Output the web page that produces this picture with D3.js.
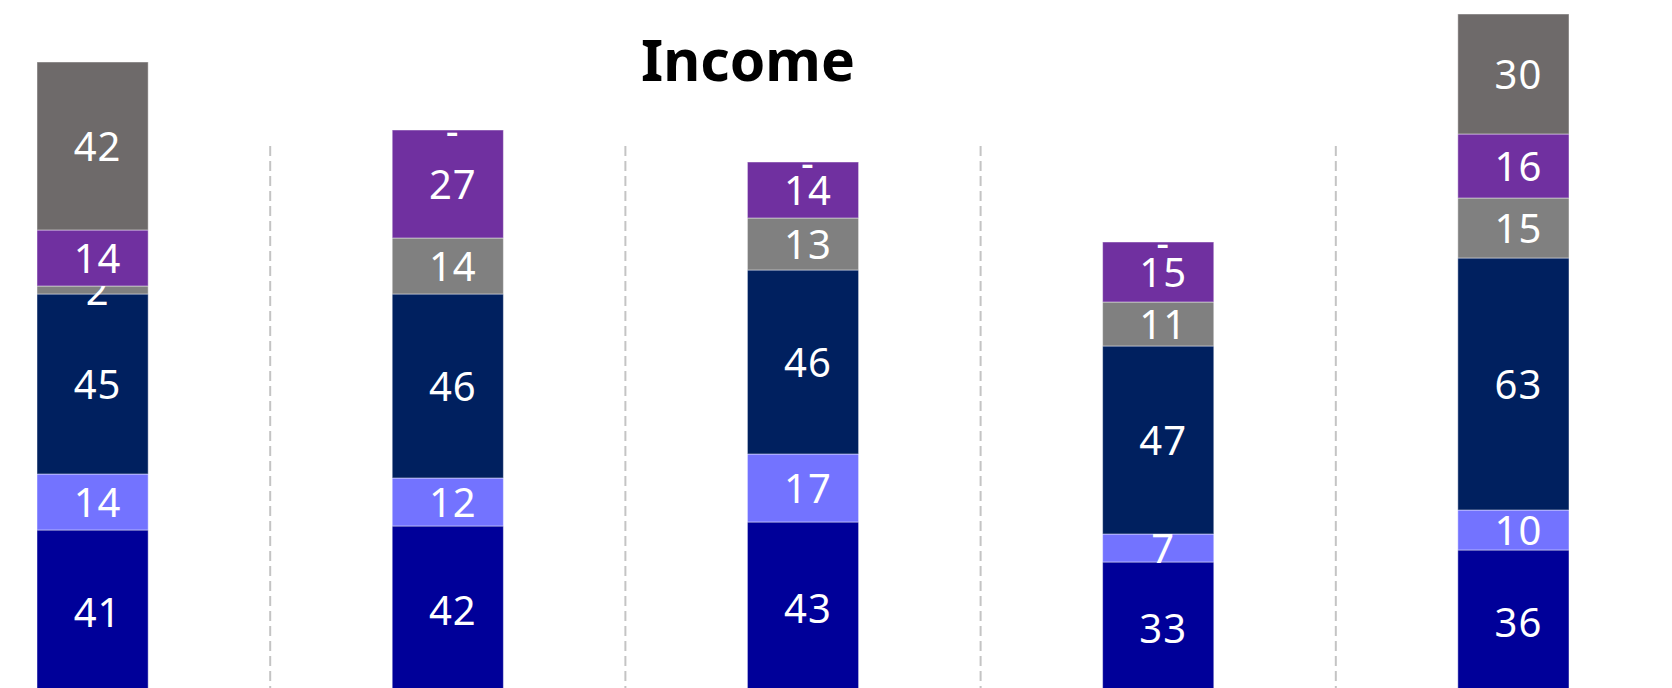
<!DOCTYPE html>
<html>
<head>
<meta charset="utf-8">
<script src="https://cdn.jsdelivr.net/npm/d3@7"></script>
<style>
  html, body { margin: 0; padding: 0; background: #ffffff; overflow: hidden; }
  svg { display: block; }
</style>
</head>
<body>
<div id="container"></div>
<script>
"use strict";

// Income groups, left to right (axis labels are cut off in the original).
const categories = ["g1", "g2", "g3", "g4", "g5"];

// Stacked series, bottom to top. A value of null means "no data" and shows a dash.
const seriesNames = ["s1", "s2", "s3", "s4", "s5", "s6"];
const s1 = [41, 42, 43, 33, 36];
const s2 = [14, 12, 17, 7, 10];
const s3 = [45, 46, 46, 47, 63];
const s4 = [2, 14, 13, 11, 15];
const s5 = [14, 27, 14, 15, 16];
const s6 = [42, null, null, null, 30];

const seriesColors = ["#000099", "#7373ff", "#00205f", "#808080", "#7030a0", "#6e6a6a"];

const title = "Income";

const width = 1672;
const height = 688;

const rows = categories.map((c, i) => ({
  key: c,
  s1: s1[i], s2: s2[i], s3: s3[i], s4: s4[i], s5: s5[i], s6: s6[i]
}));
const raw = { s1, s2, s3, s4, s5, s6 };

const x = d3.scaleBand()
  .domain(categories)
  .range([37, 1569])
  .paddingInner(0.687)
  .paddingOuter(0);

// The plot continues below the visible window; baseline sits just under the edge.
const y = d3.scaleLinear()
  .domain([0, 170])
  .range([694, 14]);

const stack = d3.stack()
  .keys(seriesNames)
  .value((d, k) => d[k] == null ? 0 : d[k]);
const layers = stack(rows);

const svg = d3.create("svg")
  .attr("width", width)
  .attr("height", height);

// Dashed separators between groups.
const seps = categories.slice(1).map((c, i) =>
  (x(categories[i]) + x.bandwidth() + x(c)) / 2);
svg.append("g")
  .selectAll("line")
  .data(seps)
  .join("line")
  .attr("x1", (d) => d)
  .attr("x2", (d) => d)
  .attr("y1", 146)
  .attr("y2", height)
  .attr("stroke", "#c4c4c4")
  .attr("stroke-width", 2)
  .attr("stroke-dasharray", "10,5");

// Bars.
const layerG = svg.append("g")
  .selectAll("g")
  .data(layers)
  .join("g")
  .attr("fill", (d, i) => seriesColors[i]);

layerG.selectAll("rect")
  .data((d) => d)
  .join("rect")
  .attr("x", (d) => x(d.data.key))
  .attr("y", (d) => y(d[1]))
  .attr("width", x.bandwidth())
  .attr("height", (d) => y(d[0]) - y(d[1]))
  .attr("stroke", "rgba(255,255,255,0.45)")
  .attr("stroke-width", 1);

// Value labels.
const valueOf = (d) => raw[d.key][categories.indexOf(d.p.data.key)];
layerG.selectAll("text")
  .data((d) => d.map((p) => ({ p, key: d.key })))
  .join("text")
  .attr("x", (d) => x(d.p.data.key) + x.bandwidth() / 2 + 5)
  .attr("y", (d) => (y(d.p[0]) + y(d.p[1])) / 2)
  .attr("dy", (d) => valueOf(d) == null ? 15 : 15)
  .attr("text-anchor", "middle")
  .attr("fill", "#ffffff")
  .style("font-family", "'Noto Sans', sans-serif")
  .style("font-size", "40px")
  .style("letter-spacing", "1px")
  .text((d) => valueOf(d) == null ? "-" : valueOf(d));

// Title.
svg.append("text")
  .attr("x", 748)
  .attr("y", 81)
  .attr("text-anchor", "middle")
  .attr("fill", "#000000")
  .style("font-family", "'Noto Sans', sans-serif")
  .style("font-weight", "bold")
  .style("font-size", "57px")
  .text(title);

document.getElementById("container").append(svg.node());
</script>
</body>
</html>
